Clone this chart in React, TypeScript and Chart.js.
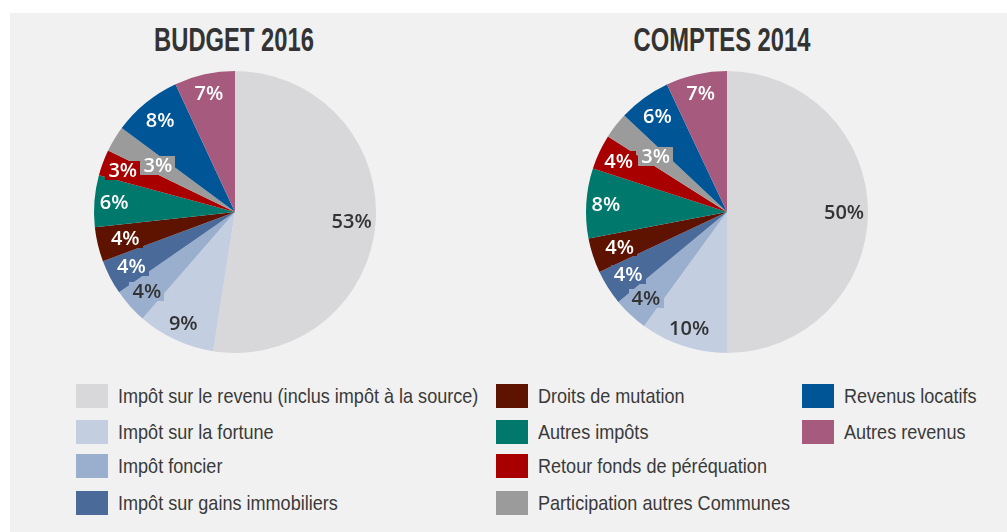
import React, { useEffect, useRef } from "react";
import { Chart, registerables } from "chart.js";

Chart.register(...registerables);

const categories = [
  "Impôt sur le revenu (inclus impôt à la source)",
  "Impôt sur la fortune",
  "Impôt foncier",
  "Impôt sur gains immobiliers",
  "Droits de mutation",
  "Autres impôts",
  "Retour fonds de péréquation",
  "Participation autres Communes",
  "Revenus locatifs",
  "Autres revenus",
];

const budget2016 = [53, 9, 4, 4, 4, 6, 3, 3, 8, 7];
const comptes2014 = [50, 10, 4, 4, 4, 8, 4, 3, 6, 7];

const titles = ["BUDGET 2016", "COMPTES 2014"];

const sliceColors = [
  "#d8d8da",
  "#c3cee1",
  "#9aafce",
  "#4a6a99",
  "#5e1200",
  "#00786c",
  "#a80000",
  "#9b9b9b",
  "#005596",
  "#a65a7e",
];

const labelTextColors = [
  "#333333",
  "#333333",
  "#333333",
  "#ffffff",
  "#ffffff",
  "#ffffff",
  "#ffffff",
  "#ffffff",
  "#ffffff",
  "#ffffff",
];

const labelRadius = [0.83, 0.87, 0.84, 0.83, 0.8, 0.86, 0.85, 0.64, 0.84, 0.86];

// legend layout: column index per category
const legendColumns = [0, 0, 0, 0, 1, 1, 1, 1, 2, 2];
const legendColX = [76, 496, 802];
const legendRowY = [384, 420, 454, 491];

const labelPlugin = {
  id: "boxLabels",
  afterDatasetsDraw(chart: any) {
    const ctx = chart.ctx;
    const meta = chart.getDatasetMeta(0);
    const data = chart.data.datasets[0].data as number[];
    ctx.save();
    ctx.font = "600 20px 'Open Sans'";
    ctx.textAlign = "center";
    ctx.textBaseline = "middle";
    meta.data.forEach((arc: any, i: number) => {
      const p = arc.getProps(["x", "y", "startAngle", "endAngle", "outerRadius"], true);
      const mid = (p.startAngle + p.endAngle) / 2;
      const r = p.outerRadius * labelRadius[i];
      const x = p.x + Math.cos(mid) * r;
      const y = p.y + Math.sin(mid) * r;
      const text = data[i] + "%";
      const w = ctx.measureText(text).width + 6;
      const h = 19;
      ctx.fillStyle = sliceColors[i];
      ctx.fillRect(Math.round(x - w / 2), Math.round(y - h / 2), Math.round(w), h);
      ctx.fillStyle = labelTextColors[i];
      ctx.fillText(text, x, y + 1);
    });
    ctx.restore();
  },
};

function PieCanvas({ values, left, top }: { values: number[]; left: number; top: number }) {
  const ref = useRef<HTMLCanvasElement | null>(null);
  useEffect(() => {
    if (!ref.current) return;
    const chart = new Chart(ref.current, {
      type: "pie",
      data: {
        labels: categories,
        datasets: [
          {
            data: values,
            backgroundColor: sliceColors,
            borderWidth: 0,
          },
        ],
      },
      options: {
        responsive: false,
        animation: false,
        layout: { padding: 9 },
        plugins: {
          legend: { display: false },
          tooltip: { enabled: false },
          title: { display: false },
        },
      },
      plugins: [labelPlugin],
    });
    return () => chart.destroy();
  }, [values]);
  return (
    <canvas
      ref={ref}
      width={300}
      height={300}
      style={{ position: "absolute", left, top, width: 300, height: 300 }}
    />
  );
}

const titleStyle: React.CSSProperties = {
  position: "absolute",
  top: 23,
  width: 300,
  textAlign: "center",
  fontFamily: "'Liberation Sans', sans-serif",
  fontWeight: "bold",
  fontSize: 33,
  lineHeight: "33px",
  color: "#333333",
  transform: "scaleX(0.72)",
  transformOrigin: "center",
  whiteSpace: "nowrap",
};

export default function App() {
  const rowCounters = [0, 0, 0];
  const legendItems = categories.map((c, i) => {
    const col = legendColumns[i];
    const row = rowCounters[col]++;
    return { label: c, color: sliceColors[i], x: legendColX[col], y: legendRowY[row] };
  });
  return (
    <div style={{ position: "absolute", left: 0, top: 0, width: 1007, height: 532, background: "#ffffff", overflow: "hidden" }}>
      <div style={{ position: "absolute", left: 10, top: 13, width: 997, height: 519, background: "#f1f1f1" }} />
      <div style={{ ...titleStyle, left: 234 - 150 }}>{titles[0]}</div>
      <div style={{ ...titleStyle, left: 722 - 150 }}>{titles[1]}</div>
      <PieCanvas values={budget2016} left={235 - 150} top={212 - 150} />
      <PieCanvas values={comptes2014} left={727 - 150} top={212 - 150} />
      {legendItems.map((it, i) => (
        <div key={i}>
          <div style={{ position: "absolute", left: it.x, top: it.y, width: 32, height: 24, background: it.color }} />
          <div
            style={{
              position: "absolute",
              left: it.x + 42,
              top: it.y,
              height: 24,
              lineHeight: "24px",
              fontFamily: "'Liberation Sans', sans-serif",
              fontSize: 21,
              color: "#3a3a3a",
              whiteSpace: "nowrap",
              transform: "scaleX(0.86)",
              transformOrigin: "left center",
            }}
          >
            {it.label}
          </div>
        </div>
      ))}
    </div>
  );
}
